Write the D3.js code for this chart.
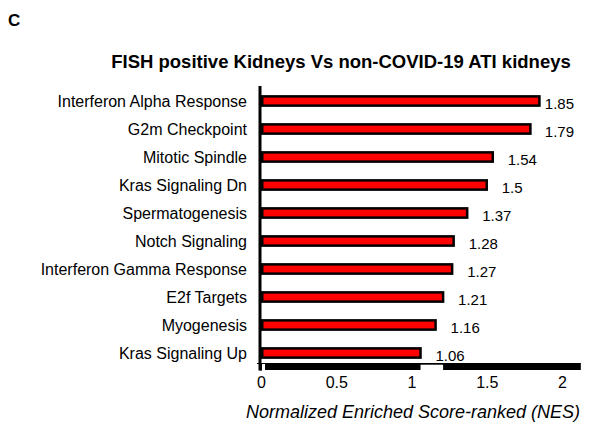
<!DOCTYPE html>
<html>
<head>
<meta charset="utf-8">
<script src="https://cdn.jsdelivr.net/npm/d3@7"></script>
<style>
  body { margin: 0; background: #fff; }
  text { font-family: "Liberation Sans", Arial, sans-serif; fill: #000; }
</style>
</head>
<body>
<svg id="chart" width="589" height="427"></svg>
<script>
// gene sets, top to bottom
var categories = [
    "Interferon Alpha Response",
    "G2m Checkpoint",
    "Mitotic Spindle",
    "Kras Signaling Dn",
    "Spermatogenesis",
    "Notch Signaling",
    "Interferon Gamma Response",
    "E2f Targets",
    "Myogenesis",
    "Kras Signaling Up"
];
var nes = [1.85, 1.79, 1.54, 1.5, 1.37, 1.28, 1.27, 1.21, 1.16, 1.06];
var xTicks = [0, 0.5, 1, 1.5, 2];

var data = categories.map(function(c, i) { return {name: c, value: nes[i]}; });

var svg = d3.select("#chart");

var xScale = d3.scaleLinear()
    .domain([0, 2])
    .range([261, 562]);
var yScale = d3.scaleBand()
    .domain(categories)
    .range([87, 367])
    .paddingInner(0.58)
    .paddingOuter(0.29);

var axisY = 363.5,
    xMax = 2.125,
    barStroke = 2.5;

// panel letter + title
svg.append("text")
    .attr("x", 8).attr("y", 26)
    .style("font-size", "17px").style("font-weight", "bold")
    .text("C");

svg.append("text")
    .attr("x", 341).attr("y", 68)
    .attr("text-anchor", "middle")
    .style("font-size", "18.5px").style("font-weight", "bold")
    .text("FISH positive Kidneys Vs non-COVID-19 ATI kidneys");

// bars
svg.selectAll(".bar").data(data).enter().append("rect")
    .attr("class", "bar")
    .attr("x", xScale(0) + barStroke / 2)
    .attr("y", function(d) { return yScale(d.name) + barStroke / 2; })
    .attr("width", function(d) { return xScale(d.value) - xScale(0) - barStroke / 2; })
    .attr("height", yScale.bandwidth() - barStroke)
    .attr("fill", "#ff0000")
    .attr("stroke", "#000")
    .attr("stroke-width", barStroke);

// value labels (pushed back in when they would run off the right edge)
svg.selectAll(".val").data(data).enter().append("text")
    .attr("class", "val")
    .style("font-size", "15px")
    .attr("y", function(d) { return yScale(d.name) + yScale.bandwidth() / 2 + 2.5; })
    .attr("dy", "0.35em")
    .text(function(d) { return d.value; })
    .attr("x", function(d) {
        var w = this.getComputedTextLength();
        return Math.min(xScale(d.value) + 15, 574 - w);
    });

// category labels
svg.selectAll(".cat").data(data).enter().append("text")
    .attr("class", "cat")
    .attr("x", 247)
    .attr("y", function(d) { return yScale(d.name) + yScale.bandwidth() / 2; })
    .attr("dy", "0.35em")
    .attr("text-anchor", "end")
    .style("font-size", "16px")
    .text(function(d) { return d.name; });

// x axis: thin baseline, heavy band underneath with a notch
var xAxis = d3.axisBottom(xScale)
    .tickValues(xTicks)
    .tickSize(0)
    .tickPadding(13)
    .tickFormat(function(d) { return String(d); });

var gx = svg.append("g")
    .attr("class", "x axis")
    .attr("transform", "translate(0," + axisY + ")")
    .call(xAxis);
gx.select(".domain").remove();
gx.selectAll("text").style("font-size", "16px").style("font-family", "Liberation Sans, Arial, sans-serif");

svg.append("line")
    .attr("x1", xScale(0) - 4).attr("x2", xScale(xMax))
    .attr("y1", axisY).attr("y2", axisY)
    .attr("stroke", "#000").attr("stroke-width", 1.2);
svg.append("rect")
    .attr("x", xScale(0) + 4).attr("y", axisY)
    .attr("width", xScale(xMax) - xScale(0) - 4).attr("height", 6.5)
    .attr("fill", "#000");
svg.append("rect")
    .attr("x", xScale(1.06)).attr("y", axisY + 1.2)
    .attr("width", xScale(1.21) - xScale(1.06)).attr("height", 6)
    .attr("fill", "#fff");
svg.append("line")
    .attr("x1", xScale(0)).attr("x2", xScale(0))
    .attr("y1", axisY).attr("y2", axisY + 7)
    .attr("stroke", "#000").attr("stroke-width", 2);

// y axis line
svg.append("line")
    .attr("x1", xScale(0) - 1).attr("x2", xScale(0) - 1)
    .attr("y1", 86).attr("y2", axisY + 7)
    .attr("stroke", "#000").attr("stroke-width", 3);

// x axis title
svg.append("text")
    .attr("x", 413).attr("y", 418)
    .attr("text-anchor", "middle")
    .style("font-size", "18px").style("font-style", "italic")
    .text("Normalized Enriched Score-ranked (NES)");
</script>
</body>
</html>
